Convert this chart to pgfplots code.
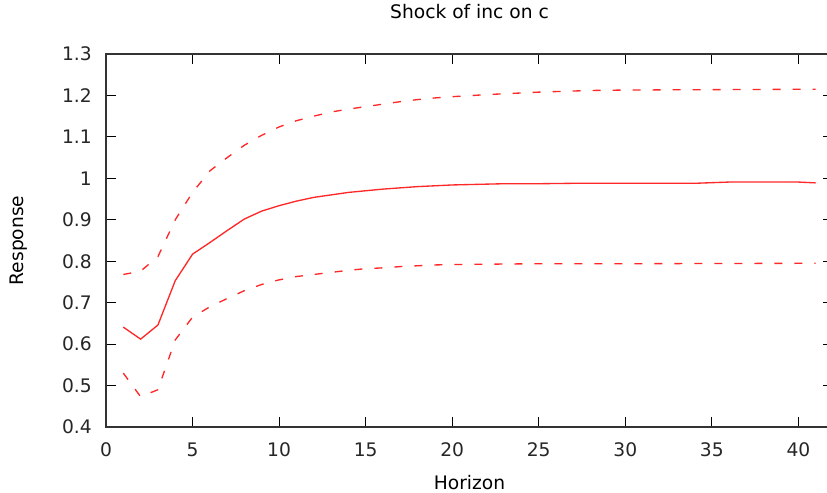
\documentclass[border=0pt]{standalone}
\usepackage{fontspec}
\setmainfont{DejaVu Sans}
\usepackage{pgfplots}
\pgfplotsset{compat=1.18}
\usetikzlibrary{calc}
\definecolor{irfred}{RGB}{255,40,40}

\begin{document}
\begin{tikzpicture}
\begin{axis}[
  scale only axis,
  width=545.25pt, height=279.75pt,
  xmin=0, xmax=42, ymin=0.4, ymax=1.3,
  xtick={0,5,...,40},
  ytick={0.4,0.5,...,1.3},
  yticklabel style={/pgf/number format/fixed,/pgf/number format/precision=1},
  /pgf/number format/assume math mode=true,
  tick align=inside,
  major tick length=7.5pt,
  tick style={black, line width=0.8pt},
  axis line style={black!80, line width=0.9pt},
  ticklabel style={font=\fontsize{14}{16}\selectfont, black!85, inner sep=0pt},
  xticklabel style={anchor=center, yshift=-17.25pt},
  yticklabel style={anchor=east, xshift=-10.5pt},
  title={Shock of inc on c},
  title style={font=\fontsize{14}{16}\selectfont, at={(axis description cs:0.5,1)},
    anchor=center, yshift=25.5pt},
  xlabel={Horizon},
  ylabel={Response},
  label style={font=\fontsize{14}{16}\selectfont},
  xlabel style={at={(axis description cs:0.5,0)}, anchor=center, yshift=-42pt},
  ylabel style={at={(axis description cs:0,0.5)}, anchor=center, yshift=65.25pt},
]
\addplot[irfred, no marks, line width=1pt] coordinates {
  (1,0.641) (2,0.612) (3,0.646) (4,0.753) (5,0.817) (6,0.845) (7,0.874)
  (8,0.902) (9,0.921) (10,0.934) (11,0.945) (12,0.954) (13,0.960)
  (14,0.966) (15,0.970) (16,0.974) (17,0.977) (18,0.980) (19,0.982)
  (20,0.984) (21,0.985) (22,0.986) (23,0.987) (24,0.987) (25,0.987)
  (27,0.988) (30,0.988) (34,0.988) (36,0.991) (38,0.991) (40,0.991) (41,0.989)
};
\addplot[irfred, no marks, line width=1pt, dash pattern=on 6pt off 9pt] coordinates {
  (1,0.768) (2,0.776) (3,0.811) (4,0.900) (5,0.966) (6,1.018) (7,1.050)
  (8,1.080) (9,1.104) (10,1.124) (11,1.139) (12,1.150) (13,1.160)
  (14,1.167) (15,1.173) (16,1.179) (17,1.185) (18,1.190) (19,1.194)
  (20,1.197) (22,1.202) (25,1.208) (28,1.212) (30,1.213) (35,1.214) (41,1.215)
};
\addplot[irfred, no marks, line width=1pt, dash pattern=on 6pt off 9pt] coordinates {
  (1,0.530) (2,0.473) (3,0.490) (4,0.610) (5,0.665) (6,0.690) (7,0.710)
  (8,0.729) (9,0.744) (10,0.755) (11,0.763) (12,0.768) (13,0.773)
  (14,0.778) (15,0.782) (16,0.784) (17,0.787) (18,0.789) (19,0.791)
  (20,0.792) (25,0.794) (30,0.794) (41,0.795)
};
\end{axis}
\pgfresetboundingbox
\path[use as bounding box]
  ($(current axis.south west)+(-79.5pt,-49.5pt)$) rectangle
  ($(current axis.north west)+(540.75pt,40.5pt)$);
\end{tikzpicture}
\end{document}
